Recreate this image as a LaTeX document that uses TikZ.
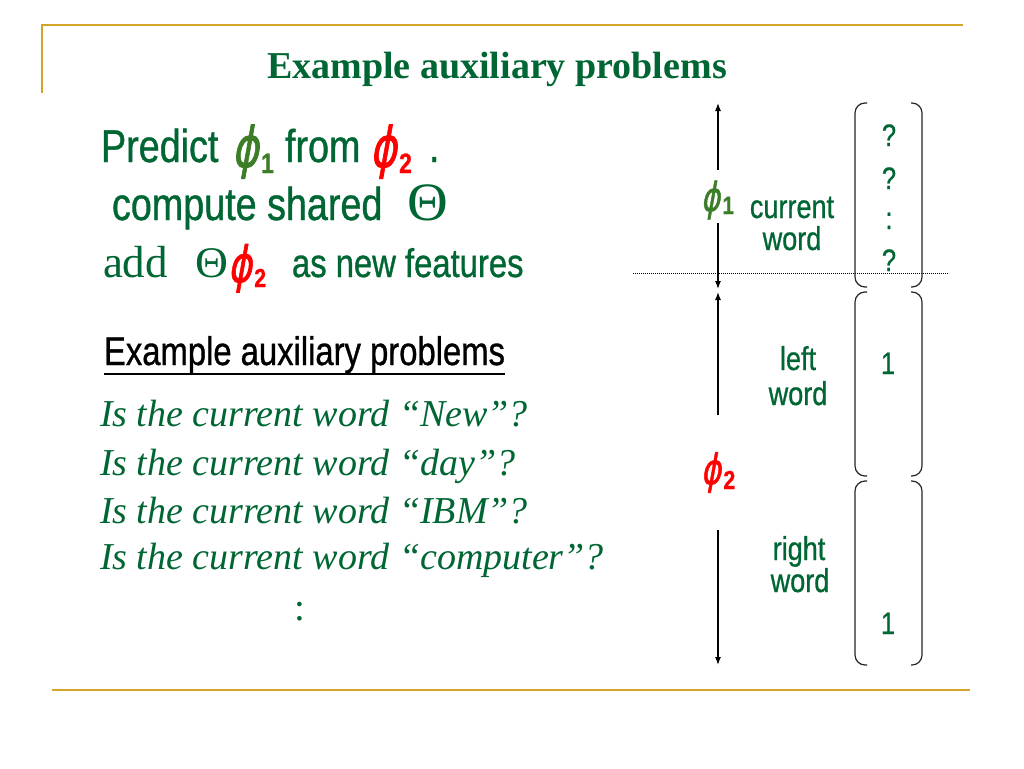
\documentclass[tikz,border=0pt]{standalone}
\usepackage{fontspec}
\usetikzlibrary{arrows.meta}
\setmainfont{Liberation Serif}
\newfontfamily\narrow[FakeStretch=0.82,FakeBold=0.8]{Liberation Sans}
\newfontfamily\phifont[FakeSlant=0.25,FakeBold=1.5]{DejaVu Sans}
\definecolor{tgreen}{RGB}{0,102,51}
\definecolor{pgreen}{RGB}{60,125,40}
\definecolor{gold}{RGB}{212,165,40}
\definecolor{pred}{RGB}{255,0,0}
% phi with subscript: colour, phi size, drop, sub size, digit
\newcommand\phisub[5]{{\color{#1}\scalebox{0.72}[1]{\phifont\fontsize{#2}{#2}\selectfont ϕ}\kern2.5pt\raisebox{-#3pt}{\narrow\bfseries\fontsize{#4}{#4}\selectfont #5}}}
\newcommand\bigtheta{\scalebox{1.2}[1.15]{Θ}}
\tikzset{
  goldline/.style={draw=gold, line width=2pt},
  big/.style={anchor=base west, text=tgreen, font=\narrow\fontsize{46}{50}\selectfont},
  ital/.style={anchor=base west, text=tgreen, font=\itshape\fontsize{38}{40}\selectfont},
  rlbl/.style={anchor=base, text=tgreen, font=\narrow\fontsize{33}{34}\selectfont},
  vec/.style={anchor=base, text=tgreen, font=\narrow\fontsize{31}{32}\selectfont},
  arr/.style={line width=1.2pt, -{Latex[length=8pt,width=6pt]}},
  brk/.style={line width=1.2pt, draw=black!85, rounded corners=10pt},
}
\begin{document}
\begin{tikzpicture}[x=1pt,y=-1pt, every node/.style={inner sep=0pt, outer sep=0pt}]
\useasboundingbox (0,0) rectangle (1024,768);
\fill[white] (0,0) rectangle (1024,768);
% frame lines
\coordinate (fa) at (42,93);
\coordinate (fb) at (42,25);
\coordinate (fc) at (963,25);
\draw[goldline] (fa) -- (fb) -- (fc);
\coordinate (ba) at (52,690);
\coordinate (bb) at (970,690);
\draw[goldline] (ba) -- (bb);
% title
\node[anchor=base, text=tgreen, font=\bfseries\fontsize{38}{40}\selectfont] (title) at (497,78) {Example auxiliary problems};
% line 1
\node[big] (l1a) at (101,162) {Predict};
\node[anchor=base west] (l1b) at (232,167) {\phisub{pgreen}{56}{6}{28}{1}};
\node[big] (l1c) at (285,162) {from};
\node[anchor=base west] (l1d) at (370,167) {\phisub{pred}{56}{6}{28}{2}};
\node[big] (l1e) at (429,162) {.};
% line 2
\node[anchor=base west, text=tgreen, font=\narrow\fontsize{46}{50}\selectfont] (l2a) at (112,220) {compute shared};
\node[anchor=base west, text=tgreen, font=\fontsize{47}{48}\selectfont] (l2b) at (407,220) {\bigtheta};
% line 3
\node[anchor=base west, text=tgreen, font=\fontsize{45}{46}\selectfont] (l3a) at (103,277) {add};
\node[anchor=base west, text=tgreen, font=\fontsize{38}{40}\selectfont] (l3b) at (195,277) {\bigtheta};
\node[anchor=base west] (l3c) at (228,282) {\phisub{pred}{50}{5}{26}{2}};
\node[anchor=base west, text=tgreen, font=\narrow\fontsize{40}{42}\selectfont] (l3d) at (292,277) {as new features};
% underlined heading
\node[anchor=base west, font=\narrow\fontsize{40}{42}\selectfont] (ex) at (104,365) {Example auxiliary problems};
\draw[line width=1.6pt] ([yshift=-9pt]ex.base west) -- ([yshift=-9pt]ex.base east);
% questions
\node[ital] (q1) at (100,426) {Is the current word “New”?};
\node[ital] (q2) at (100,475) {Is the current word “day”?};
\node[ital] (q3) at (100,523) {Is the current word “IBM”?};
\node[ital] (q4) at (100,569) {Is the current word “computer”?};
\node[anchor=base, text=tgreen, font=\fontsize{39}{40}\selectfont] (q5) at (300,620) {:};
% right: arrows
\coordinate (a1t) at (718,103);
\coordinate (a1m) at (718,170);
\node[anchor=base west] (phiR1) at (701,211) {\phisub{pgreen}{40}{3}{25}{1}};
\coordinate (a1u) at (718,223);
\coordinate (a1b) at (718,289);
\draw[arr] (a1m) -- (a1t);
\draw[arr] (a1u) -- (a1b);
\coordinate (a2t) at (718,292);
\coordinate (a2m) at (718,415);
\node[anchor=base west] (phiR2) at (701,484) {\phisub{pred}{42}{5}{26}{2}};
\coordinate (a2u) at (718,530);
\coordinate (a2b) at (718,665);
\draw[arr] (a2m) -- (a2t);
\draw[arr] (a2u) -- (a2b);
% dotted separator
\coordinate (dl) at (633,273);
\coordinate (dr) at (949,273);
\draw[line width=0.8pt, dash pattern=on 0.9pt off 1.1pt] (dl) -- (dr);
% labels
\node[rlbl] (cw1) at (792,218) {current};
\node[rlbl] (cw2) at (792,250) {word};
\node[rlbl] (lw1) at (798,370) {left};
\node[rlbl] (lw2) at (798,405) {word};
\node[rlbl] (rw1) at (799,560) {right};
\node[rlbl] (rw2) at (800,592) {word};
% brackets
\foreach \t/\b in {103/287, 292/476, 481/665}{
  \draw[brk] (867,\t) -- (855,\t) -- (855,\b) -- (867,\b);
  \draw[brk] (911,\t) -- (922,\t) -- (922,\b) -- (911,\b);
}
% vector entries
\node[vec] (v1) at (889,146) {?};
\node[vec] (v2) at (889,189) {?};
\node[vec] (v3) at (889,229) {:};
\node[vec] (v5) at (889,271) {?};
\node[vec] (v6) at (888,374) {1};
\node[vec] (v7) at (888,634) {1};
\end{tikzpicture}
\end{document}
